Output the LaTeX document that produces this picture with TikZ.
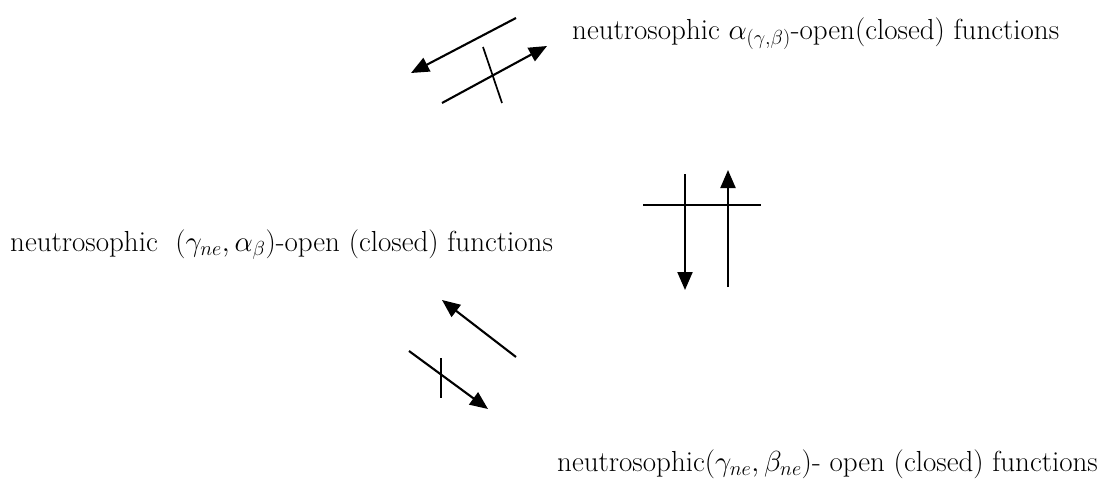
\RequirePackage{fix-cm}
\documentclass[tikz,border=0pt]{standalone}
\usepackage{fontspec}
\usetikzlibrary{arrows.meta}

\begin{document}
\begin{tikzpicture}[x=1pt,y=-1pt,
lbl/.style={anchor=base west,inner sep=0pt,font=\fontsize{29}{34}\selectfont},
arr/.style={-{Triangle[length=18pt,width=15pt]},line width=2.1pt},
tick/.style={line width=1.7pt}
]
\useasboundingbox (0,0) rectangle (1111,482);
% the three kinds of functions
\node[lbl] (alphagb) at (572,39) {neutrosophic $\alpha_{(\gamma,\beta)}$-open(closed) functions};
\node[lbl] (gammaalpha) at (10,251) {neutrosophic \ $\left(\gamma_{ne},\alpha_{\beta}\right)$-open (closed) functions};
\node[lbl] (gammabeta) at (557,471) {neutrosophic$(\gamma_{ne},\beta_{ne})$- open (closed) functions};
% end points of the arrows
\coordinate (ta1) at (516,18);  \coordinate (tb1) at (411,73);
\coordinate (ta2) at (442,103); \coordinate (tb2) at (547,46);
\coordinate (tc1) at (483,47);  \coordinate (tc2) at (502,103);
\coordinate (ma1) at (685,174); \coordinate (mb1) at (685,290);
\coordinate (ma2) at (728,287); \coordinate (mb2) at (728,170);
\coordinate (mc1) at (643,205); \coordinate (mc2) at (761,205);
\coordinate (ba1) at (516,357); \coordinate (bb1) at (442,300);
\coordinate (ba2) at (409,351); \coordinate (bb2) at (488,409);
\coordinate (bc1) at (441,358); \coordinate (bc2) at (441,398);
% top pair
\draw[arr] (ta1) -- (tb1);
\draw[arr] (ta2) -- (tb2);
\draw[tick] (tc1) -- (tc2);
% right pair
\draw[arr] (ma1) -- (mb1);
\draw[arr] (ma2) -- (mb2);
\draw[tick] (mc1) -- (mc2);
% bottom pair
\draw[arr] (ba1) -- (bb1);
\draw[arr] (ba2) -- (bb2);
\draw[tick] (bc1) -- (bc2);
\end{tikzpicture}
\end{document}
